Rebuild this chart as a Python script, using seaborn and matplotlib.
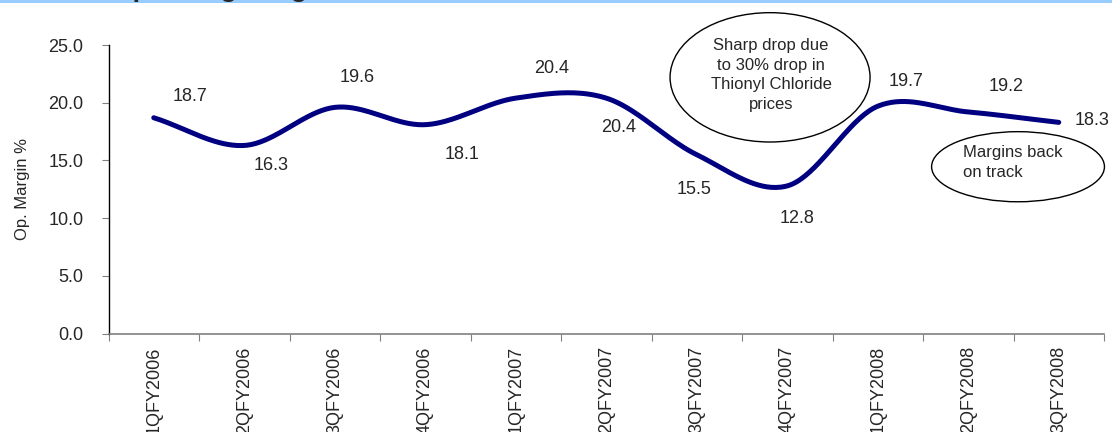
import matplotlib
matplotlib.use("Agg")
import matplotlib.pyplot as plt
from matplotlib.patches import Ellipse, Rectangle
import numpy as np
import pandas as pd
import seaborn as sns

quarters = ["1QFY2006", "2QFY2006", "3QFY2006", "4QFY2006", "1QFY2007", "2QFY2007",
            "3QFY2007", "4QFY2007", "1QFY2008", "2QFY2008", "3QFY2008"]
op_margin = [18.7, 16.3, 19.6, 18.1, 20.4, 20.4, 15.5, 12.8, 19.7, 19.2, 18.3]
# label offsets in pixels (dx, dy) from each point
label_offsets = [(36, 21), (27, -20), (22, 30), (37, -30), (36, 30), (12, -29),
                 (-3, -35), (10, -33), (28, 25), (38, 25), (33, 2)]


def smooth(y, n=40):
    # excel-like smoothed line (catmull-rom through the points)
    y = np.asarray(y, float)
    p = np.concatenate([[2 * y[0] - y[1]], y, [2 * y[-1] - y[-2]]])
    xs, ys = [], []
    for i in range(len(y) - 1):
        p0, p1, p2, p3 = p[i], p[i + 1], p[i + 2], p[i + 3]
        m1 = (p2 - p0) / 2
        m2 = (p3 - p1) / 2
        t = np.linspace(0, 1, n, endpoint=False)
        h00 = 2 * t**3 - 3 * t**2 + 1
        h10 = t**3 - 2 * t**2 + t
        h01 = -2 * t**3 + 3 * t**2
        h11 = t**3 - t**2
        xs.extend(i + t)
        ys.extend(h00 * p1 + h10 * m1 + h01 * p2 + h11 * m2)
    xs.append(len(y) - 1)
    ys.append(y[-1])
    return np.array(xs), np.array(ys)


sns.set_style("white")
plt.rcParams["font.family"] = ["Liberation Sans", "DejaVu Sans"]

fig = plt.figure(figsize=(11.12, 4.32), dpi=100)
ax = fig.add_axes([108.5 / 1112, 1 - 333.7 / 432, (1104 - 108.5) / 1112, (333.7 - 45) / 432])

sx, sy = smooth(op_margin)
curve = pd.DataFrame({"x": sx, "y": sy})
sns.lineplot(data=curve, x="x", y="y", color="#000080", linewidth=3.6,
             estimator=None, sort=False, ax=ax)

for i, (v, off) in enumerate(zip(op_margin, label_offsets)):
    ax.annotate(f"{v:.1f}", (i, v), xytext=off, textcoords="offset pixels",
                ha="center", va="center", fontsize=13, annotation_clip=False)

ax.set_xlim(-0.5, len(quarters) - 0.5)
ax.set_ylim(0, 25)
ax.set_yticks(np.arange(0, 25.1, 5))
ax.set_yticklabels([f"{t:.1f}" for t in np.arange(0, 25.1, 5)], fontsize=13)
ax.set_xticks(np.arange(-0.5, len(quarters), 1))
ax.set_xticklabels([])
ax.set_xticks(range(len(quarters)), minor=True)
ax.set_xticklabels(quarters, minor=True, rotation=90, fontsize=13, va="top")
ax.tick_params(axis="x", which="major", direction="out", length=5, color="#808080", bottom=True)
ax.tick_params(axis="x", which="minor", length=0, pad=9)
ax.tick_params(axis="y", direction="out", length=5, color="#808080", left=True, pad=13)
ax.set_xlabel("")
ax.set_ylabel("Op. Margin %", fontsize=12)
ax.yaxis.set_label_coords(-0.079, 0.5)

for s in ["top", "right"]:
    ax.spines[s].set_visible(False)
ax.spines["left"].set_color("black")
ax.spines["bottom"].set_color("#808080")
ax.spines["left"].set_linewidth(1)
ax.spines["bottom"].set_linewidth(1.2)

# callouts
ax.add_patch(Ellipse((6.81, 22.2), 2.21, 11.2, facecolor="none", edgecolor="black",
                     linewidth=1, clip_on=False))
ax.text(6.82, 22.4, "Sharp drop due\nto 30% drop in\nThionyl Chloride\nprices",
        ha="center", va="center", fontsize=12, linespacing=1.4)
ax.add_patch(Ellipse((9.55, 14.46), 1.91, 6.07, facecolor="none", edgecolor="black",
                     linewidth=1, clip_on=False))
ax.text(8.94, 14.8, "Margins back\non track", ha="left", va="center",
        fontsize=12, linespacing=1.4)

# title band at top (cut off)
fig.patches.append(Rectangle((0, 1 - 3 / 432), 1, 3 / 432, transform=fig.transFigure,
                             facecolor="#99CCFF", edgecolor="none", zorder=0))
fig.text(112 / 1112, 1 + 3 / 432, "Operating Margin", fontsize=19, fontweight="bold",
         va="baseline", ha="left")

fig.savefig("out.png", dpi=100)
